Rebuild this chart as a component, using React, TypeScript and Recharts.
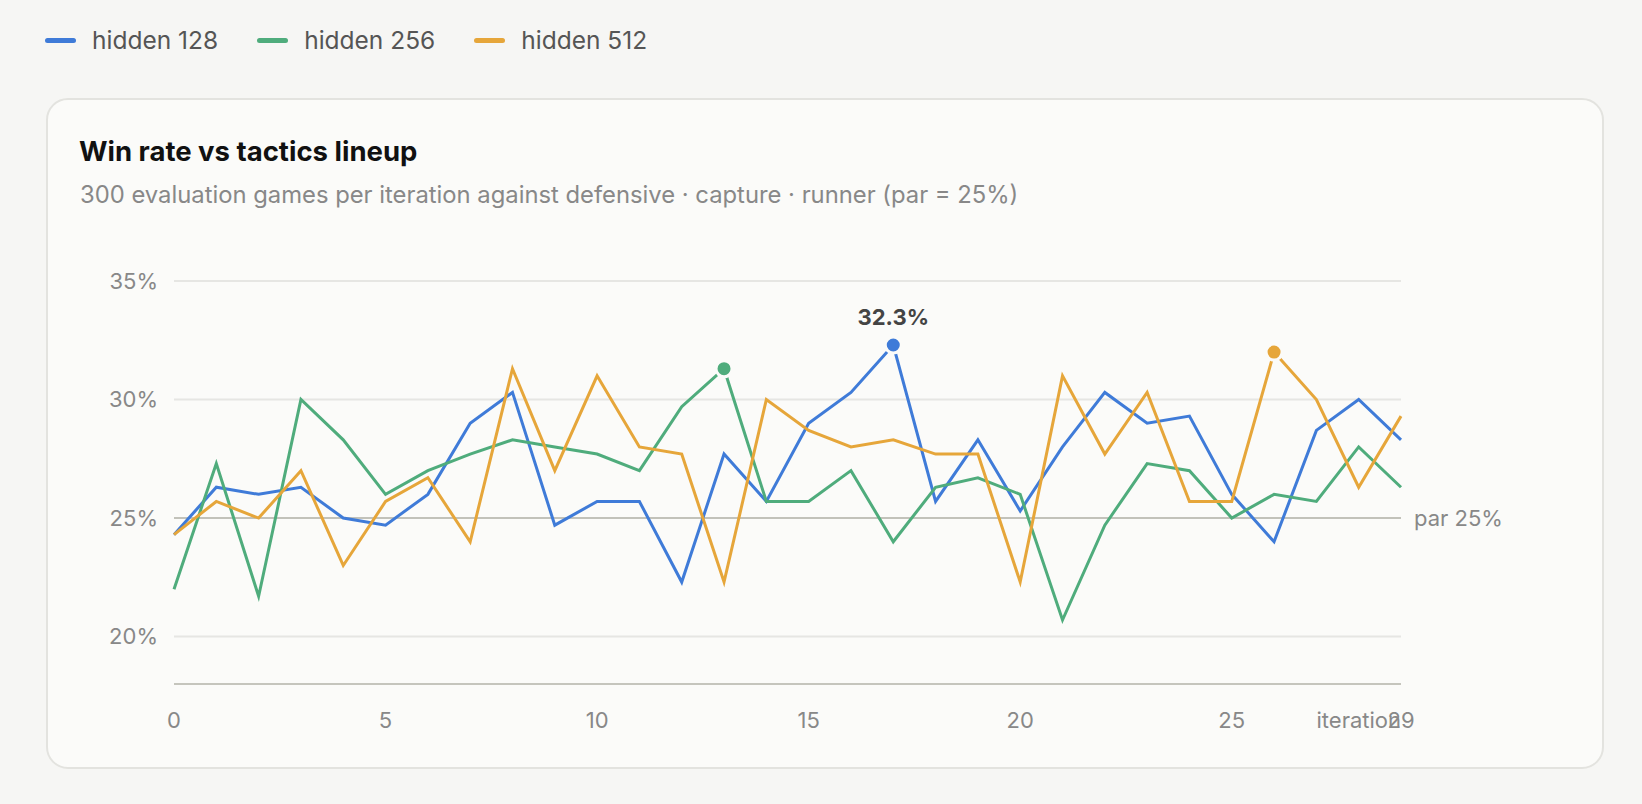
import React from 'react';
import { LineChart, Line, XAxis, YAxis, CartesianGrid, ReferenceLine } from 'recharts';

const iterations = [0, 1, 2, 3, 4, 5, 6, 7, 8, 9, 10, 11, 12, 13, 14, 15, 16, 17, 18, 19, 20, 21, 22, 23, 24, 25, 26, 27, 28, 29];
const hidden128 = [24.3, 26.3, 26.0, 26.3, 25.0, 24.7, 26.0, 29.0, 30.3, 24.7, 25.7, 25.7, 22.3, 27.7, 25.7, 29.0, 30.3, 32.3, 25.7, 28.3, 25.3, 28.0, 30.3, 29.0, 29.3, 26.0, 24.0, 28.7, 30.0, 28.3];
const hidden256 = [22.0, 27.3, 21.7, 30.0, 28.3, 26.0, 27.0, 27.7, 28.3, 28.0, 27.7, 27.0, 29.7, 31.3, 25.7, 25.7, 27.0, 24.0, 26.3, 26.7, 26.0, 20.7, 24.7, 27.3, 27.0, 25.0, 26.0, 25.7, 28.0, 26.3];
const hidden512 = [24.3, 25.7, 25.0, 27.0, 23.0, 25.7, 26.7, 24.0, 31.3, 27.0, 31.0, 28.0, 27.7, 22.3, 30.0, 28.7, 28.0, 28.3, 27.7, 27.7, 22.3, 31.0, 27.7, 30.3, 25.7, 25.7, 32.0, 30.0, 26.3, 29.3];
const yTicks = [20, 25, 30, 35];
const xTicks = [0, 5, 10, 15, 20, 25, 29];
const PAR = 25;

const seriesNames = ['hidden 128', 'hidden 256', 'hidden 512'];
const seriesKeys = ['h128', 'h256', 'h512'];
const seriesValues = [hidden128, hidden256, hidden512];
const seriesColors = ['#3f7bd8', '#4fac7c', '#e6a63a'];

const data = iterations.map((it, i) => ({
  it,
  h128: hidden128[i],
  h256: hidden256[i],
  h512: hidden512[i],
}));

const globalMax = Math.max(...hidden128, ...hidden256, ...hidden512);

const FONT = 'Inter, "Noto Sans", sans-serif';
const CARD_BG = '#fbfbf9';

function makeDot(values: number[], color: string) {
  const maxIdx = values.indexOf(Math.max(...values));
  return (props: any) => {
    const { cx, cy, index } = props;
    if (index !== maxIdx || cx == null || cy == null) return <g key={`d-${index}`} />;
    const isGlobal = values[maxIdx] === globalMax;
    return (
      <g key={`d-${index}`}>
        <circle cx={cx} cy={cy} r={8} fill={color} stroke={CARD_BG} strokeWidth={3} />
        {isGlobal && (
          <text x={cx} y={cy - 20} textAnchor="middle" fill="#444" fontSize={22} fontWeight={700} fontFamily={FONT}>
            {`${values[maxIdx].toFixed(1)}%`}
          </text>
        )}
      </g>
    );
  };
}

export default function App() {
  return (
    <div style={{ position: 'absolute', left: 0, top: 0, width: 1642, height: 804, background: '#f6f6f4', fontFamily: FONT, overflow: 'hidden' }}>
      <div style={{ position: 'absolute', left: 45, top: 22, height: 36, display: 'flex', alignItems: 'center', gap: 39 }}>
        {seriesNames.map((n, i) => (
          <div key={n} style={{ display: 'flex', alignItems: 'center', gap: 16 }}>
            <div style={{ width: 31, height: 5, borderRadius: 3, background: seriesColors[i] }} />
            <span style={{ fontSize: 24.5, color: '#555', lineHeight: '36px' }}>{n}</span>
          </div>
        ))}
      </div>
      <div style={{ position: 'absolute', left: 46, top: 98, width: 1558, height: 671, boxSizing: 'border-box', border: '2px solid #e3e3df', borderRadius: 22, background: CARD_BG }} />
      <div style={{ position: 'absolute', left: 79, top: 131, fontSize: 27.5, fontWeight: 700, color: '#111', lineHeight: '40px' }}>Win rate vs tactics lineup</div>
      <div style={{ position: 'absolute', left: 80, top: 175, fontSize: 23.8, color: '#888', lineHeight: '40px' }}>
        300 evaluation games per iteration against defensive · capture · runner (par = 25%)
      </div>
      <div style={{ position: 'absolute', left: 0, top: 0 }}>
        <LineChart width={1642} height={804} data={data} margin={{ top: 281, right: 241, bottom: 80, left: 114 }}>
          <CartesianGrid vertical={false} stroke="#e6e6e3" strokeWidth={2} />
          <XAxis
            dataKey="it"
            type="number"
            domain={[0, 29]}
            ticks={xTicks}
            interval={0}
            height={40}
            axisLine={{ stroke: '#c5c5bd', strokeWidth: 2 }}
            tickLine={false}
            tickMargin={22}
            tick={{ fill: '#888', fontSize: 22, fontFamily: FONT }}
            label={{
              content: (p: any) => {
                const vb = p.viewBox || {};
                return (
                  <text x={(vb.x ?? 0) + (vb.width ?? 0)} y={728} textAnchor="end" fill="#888" fontSize={22} fontFamily={FONT}>
                    iteration
                  </text>
                );
              },
            }}
          />
          <YAxis
            type="number"
            domain={[18, 35]}
            ticks={yTicks}
            width={60}
            axisLine={false}
            tickLine={false}
            tickMargin={10}
            tickFormatter={(v: number) => `${v}%`}
            tick={{ fill: '#888', fontSize: 22, fontFamily: FONT }}
          />
          <ReferenceLine
            y={PAR}
            stroke="#c2c2ba"
            strokeWidth={2}
            label={{ value: `par ${PAR}%`, position: 'right', offset: 13, fill: '#888', fontSize: 22, fontFamily: FONT }}
          />
          {seriesKeys.map((k, i) => (
            <Line
              key={k}
              type="linear"
              dataKey={k}
              name={seriesNames[i]}
              stroke={seriesColors[i]}
              strokeWidth={3}
              dot={makeDot(seriesValues[i], seriesColors[i])}
              activeDot={false}
              isAnimationActive={false}
            />
          ))}
        </LineChart>
      </div>
    </div>
  );
}
